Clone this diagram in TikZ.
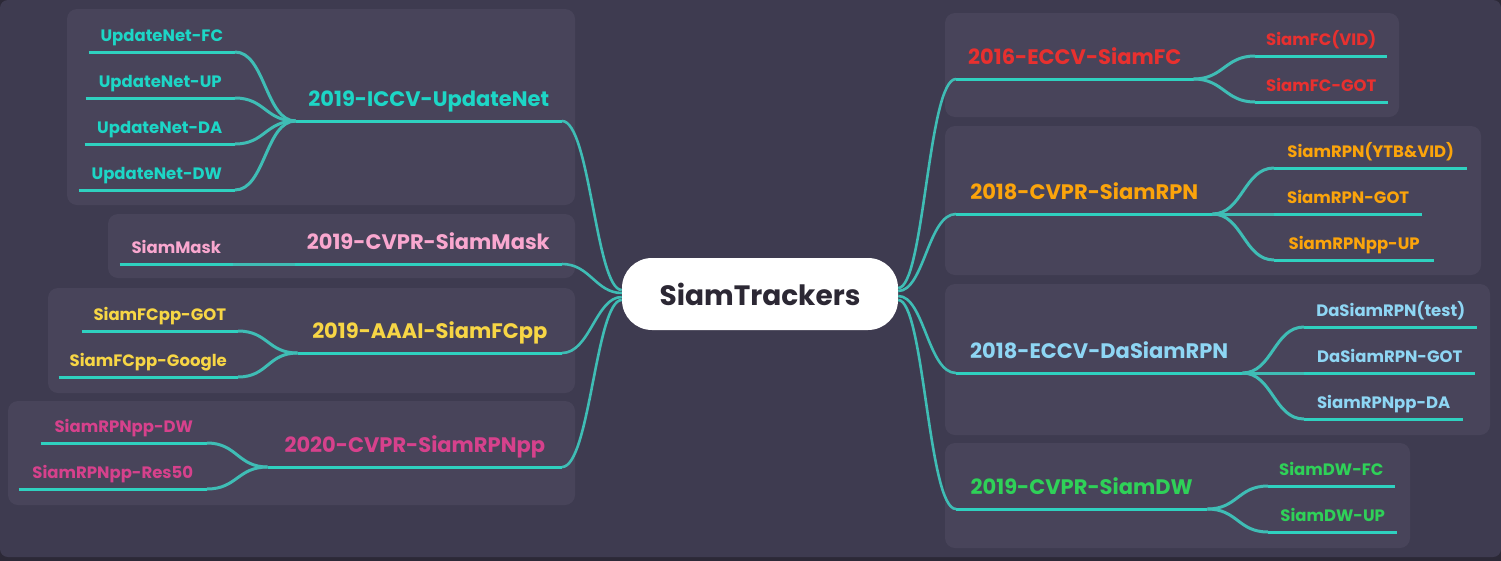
\documentclass[tikz,border=0pt]{standalone}
\usepackage{fontspec}
\setmainfont{Poppins}
\usetikzlibrary{calc}
\definecolor{bgout}{HTML}{2C2937}
\definecolor{bg}{HTML}{3E3B50}
\definecolor{panel}{HTML}{48445A}
\definecolor{lnH}{HTML}{2FD1C0}
\definecolor{lnC}{HTML}{3FBDB5}
\definecolor{cUpd}{HTML}{1DD6C6}
\definecolor{cMask}{HTML}{F9A7CF}
\definecolor{cFCpp}{HTML}{F7D645}
\definecolor{cRPNpp}{HTML}{D6418C}
\definecolor{cFC}{HTML}{E8302F}
\definecolor{cRPN}{HTML}{FBA40B}
\definecolor{cDa}{HTML}{8ED6F4}
\definecolor{cDW}{HTML}{2FD158}
\definecolor{cCenter}{HTML}{2C2834}
\tikzset{
  topic/.style={inner xsep=12pt, inner ysep=0pt, text depth=14pt, font=\bfseries\fontsize{21}{24}\selectfont},
  child/.style={inner xsep=11pt, inner ysep=0pt, text depth=10.5pt, font=\bfseries\fontsize{16.5}{19}\selectfont},
  hl/.style={draw=lnH, line width=3pt},
  cl/.style={draw=lnC, line width=3pt},
  ml/.style={draw=lnC, line width=2.6pt},
  centre/.style={fill=white, rounded corners=30pt, minimum width=276pt, minimum height=72pt, inner sep=0pt, text=cCenter, font=\bfseries\fontsize{28}{32}\selectfont},
  panelbox/.style={fill=panel, rounded corners=10pt}
}
\begin{document}
\begin{tikzpicture}[x=1pt,y=-1pt]
\useasboundingbox (0,0) rectangle (1501,560);
\fill[bgout] (-3,-3) rectangle (1504,563);
\fill[bg, rounded corners=8pt] (0,0) rectangle (1501,557);
% panels
\fill[panelbox] (67,9) rectangle (575,205);
\fill[panelbox] (108,214) rectangle (575,278);
\fill[panelbox] (48,288) rectangle (575,393);
\fill[panelbox] (8,401) rectangle (575,505);
\fill[panelbox] (945,13) rectangle (1399,117);
\fill[panelbox] (945,126) rectangle (1481,275);
\fill[panelbox] (945,284) rectangle (1490,435);
\fill[panelbox] (945,443) rectangle (1410,548);

% centre
\node[centre] (c) at (760,294) {SiamTrackers};

% left topics
\node[topic, text=cUpd, anchor=south east, minimum width=266pt] (t1) at (562,121) {2019-ICCV-UpdateNet};
\node[topic, text=cMask, anchor=south east, minimum width=267pt] (t2) at (562,264) {2019-CVPR-SiamMask};
\node[topic, text=cFCpp, anchor=south east, minimum width=264pt] (t3) at (562,353) {2019-AAAI-SiamFCpp};
\node[topic, text=cRPNpp, anchor=south east, minimum width=294pt] (t4) at (562,467) {2020-CVPR-SiamRPNpp};

% right topics
\node[topic, text=cFC, anchor=south west, minimum width=237pt] (r1) at (956,79) {2016-ECCV-SiamFC};
\node[topic, text=cRPN, anchor=south west, minimum width=256pt] (r2) at (956,214) {2018-CVPR-SiamRPN};
\node[topic, text=cDa, anchor=south west, minimum width=286pt] (r3) at (956,373) {2018-ECCV-DaSiamRPN};
\node[topic, text=cDW, anchor=south west, minimum width=251pt] (r4) at (956,509) {2019-CVPR-SiamDW};

% left children
\node[child, text=cUpd, anchor=south east, minimum width=146pt] (a1) at (235,52) {UpdateNet-FC};
\node[child, text=cUpd, anchor=south east, minimum width=149pt] (a2) at (235,98) {UpdateNet-UP};
\node[child, text=cUpd, anchor=south east, minimum width=150pt] (a3) at (235,144) {UpdateNet-DA};
\node[child, text=cUpd, anchor=south east, minimum width=156pt] (a4) at (235,190) {UpdateNet-DW};
\node[child, text=cMask, anchor=south east, minimum width=113pt] (b1) at (233,264) {SiamMask};
\node[child, text=cFCpp, anchor=south east, minimum width=156pt] (c1) at (238,331) {SiamFCpp-GOT};
\node[child, text=cFCpp, anchor=south east, minimum width=179pt] (c2) at (238,377) {SiamFCpp-Google};
\node[child, text=cRPNpp, anchor=south east, minimum width=166pt] (d1) at (207,443) {SiamRPNpp-DW};
\node[child, text=cRPNpp, anchor=south east, minimum width=188pt] (d2) at (207,489) {SiamRPNpp-Res50};

% right children
\node[child, text=cFC, anchor=south west, minimum width=131pt] (e1) at (1255,56) {SiamFC(VID)};
\node[child, text=cFC, anchor=south west, minimum width=131pt] (e2) at (1255,102) {SiamFC-GOT};
\node[child, text=cRPN, anchor=south west, minimum width=193pt] (f1) at (1274,168) {SiamRPN(YTB\&VID)};
\node[child, text=cRPN, anchor=south west, minimum width=148pt] (f2) at (1274,214) {SiamRPN-GOT};
\node[child, text=cRPN, anchor=south west, minimum width=160pt] (f3) at (1274,260) {SiamRPNpp-UP};
\node[child, text=cDa, anchor=south west, minimum width=173pt] (g1) at (1304,327) {DaSiamRPN(test)};
\node[child, text=cDa, anchor=south west, minimum width=171pt] (g2) at (1304,373) {DaSiamRPN-GOT};
\node[child, text=cDa, anchor=south west, minimum width=159pt] (g3) at (1304,419) {SiamRPNpp-DA};
\node[child, text=cDW, anchor=south west, minimum width=126pt] (h1) at (1268,486) {SiamDW-FC};
\node[child, text=cDW, anchor=south west, minimum width=129pt] (h2) at (1268,532) {SiamDW-UP};

% connection points on the centre
\coordinate (cl1) at ($(c.west)+(0,-4)$);
\coordinate (cl2) at ($(c.west)+(0,-1)$);
\coordinate (cl3) at ($(c.west)+(0,3)$);
\coordinate (cl4) at ($(c.west)+(0,6)$);
\coordinate (cr1) at ($(c.east)+(0,-6)$);
\coordinate (cr2) at ($(c.east)+(0,-3)$);
\coordinate (cr3) at ($(c.east)+(0,2)$);
\coordinate (cr4) at ($(c.east)+(0,6)$);

% centre curves
\foreach \t/\p in {t1/cl1,t2/cl2,t3/cl3,t4/cl4}
  \draw[ml] (\t.south east) .. controls +(28,0) and +(-26,0) .. (\p);
\foreach \t/\p in {r1/cr1,r2/cr2,r3/cr3,r4/cr4}
  \draw[ml] (\p) .. controls +(26,0) and +(-28,0) .. (\t.south west);

% topic lines
\foreach \t in {t1,t2,t3,t4,r1,r2,r3,r4}
  \draw[hl] (\t.south west) -- (\t.south east);
% child lines
\foreach \ch in {a1,a2,a3,a4,b1,c1,c2,d1,d2,e1,e2,f1,f2,f3,g1,g2,g3,h1,h2}
  \draw[hl] (\ch.south west) -- (\ch.south east);

% left child curves
\foreach \ch/\t in {a1/t1,a2/t1,a3/t1,a4/t1,b1/t2,c1/t3,c2/t3,d1/t4,d2/t4}
  \draw[cl] (\ch.south east) .. controls +(30,0) and +(-30,0) .. (\t.south west);
% right child curves
\foreach \ch/\t in {e1/r1,e2/r1,f1/r2,f2/r2,f3/r2,g1/r3,g2/r3,g3/r3,h1/r4,h2/r4}
  \draw[cl] (\t.south east) .. controls +(30,0) and +(-30,0) .. (\ch.south west);
\end{tikzpicture}
\end{document}
